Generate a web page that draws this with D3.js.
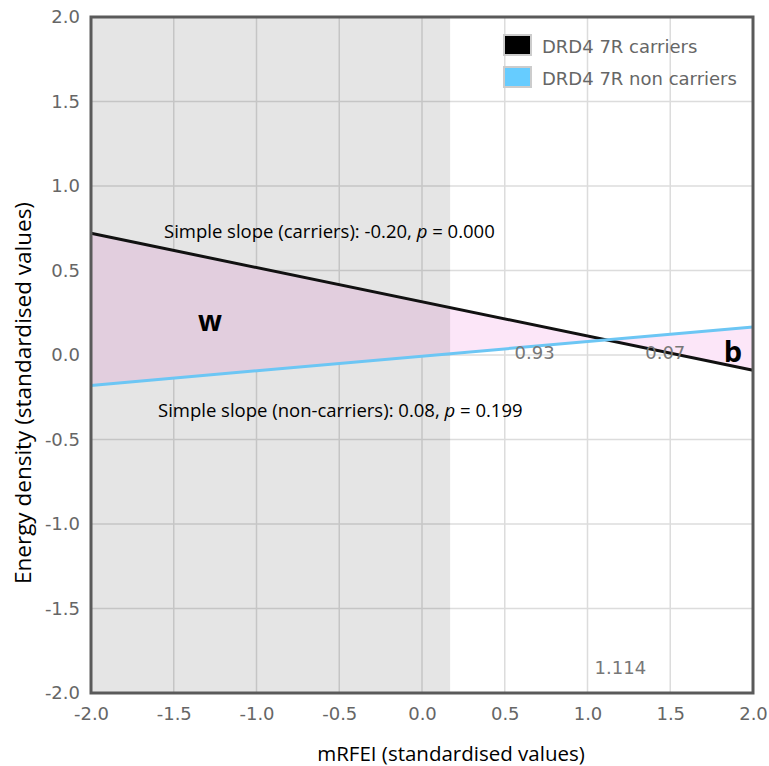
<!DOCTYPE html>
<html>
<head>
<meta charset="utf-8">
<script src="https://cdn.jsdelivr.net/npm/d3@7"></script>
<style>
  body { margin: 0; background: #fff; }
  svg { display: block; }
</style>
</head>
<body>
<div class="chart"></div>
<script>
// data
const xValues = [-2, 2];
const carriers = [0.72, -0.09];
const nonCarriers = [-0.18, 0.166];
const seriesNames = ["DRD4 7R carriers", "DRD4 7R non carriers"];
const tickValues = [-2, -1.5, -1, -0.5, 0, 0.5, 1, 1.5, 2];
const regionBound = 0.17;     // end of grey region of significance
const crossing = 1.114;
const areaLabels = [{x: 0.68, text: "0.93"}, {x: 1.47, text: "0.07"}];

const width = 769;
const height = 766;
const margin = {top: 17, right: 16, bottom: 73, left: 91};

const svg = d3.select(".chart")
  .append("svg")
  .attr("width", width)
  .attr("height", height);

const x = d3.scaleLinear()
  .domain([-2, 2])
  .range([margin.left, width - margin.right]);

const y = d3.scaleLinear()
  .domain([-2, 2])
  .range([height - margin.bottom, margin.top]);

// grid lines
const grid = svg.append("g");
grid.selectAll(".gx")
  .data(tickValues)
  .join("line")
  .attr("x1", d => x(d)).attr("x2", d => x(d))
  .attr("y1", y(2)).attr("y2", y(-2))
  .attr("stroke", "#dcdcdc").attr("stroke-width", 1.5);
grid.selectAll(".gy")
  .data(tickValues)
  .join("line")
  .attr("y1", d => y(d)).attr("y2", d => y(d))
  .attr("x1", x(-2)).attr("x2", x(2))
  .attr("stroke", "#dcdcdc").attr("stroke-width", 1.5);

// pink area between the two lines (they cross at 1.114)
const pts = xValues.map((v, i) => ({x: v, c: carriers[i], n: nonCarriers[i]}));
const band = [pts[0], pts[1], {x: pts[1].x, c: pts[1].n}, {x: pts[0].x, c: pts[0].n}];
svg.append("path")
  .attr("d", d3.line().x(d => x(d.x)).y(d => y(d.c))(band) + "Z")
  .attr("fill", "#fce6f8");

// grey region
svg.append("rect")
  .attr("x", x(-2))
  .attr("y", y(2))
  .attr("width", x(regionBound) - x(-2))
  .attr("height", y(-2) - y(2))
  .attr("fill", "rgba(20,20,20,0.11)");

// lines
const line = d3.line().x(d => x(d.x)).y(d => y(d.v));
svg.append("path")
  .attr("d", line(xValues.map((v, i) => ({x: v, v: carriers[i]}))))
  .attr("fill", "none").attr("stroke", "#111").attr("stroke-width", 3);
svg.append("path")
  .attr("d", line(xValues.map((v, i) => ({x: v, v: nonCarriers[i]}))))
  .attr("fill", "none").attr("stroke", "#6cc6f4").attr("stroke-width", 3);

// frame
svg.append("rect")
  .attr("x", x(-2)).attr("y", y(2))
  .attr("width", x(2) - x(-2)).attr("height", y(-2) - y(2))
  .attr("fill", "none").attr("stroke", "#5a5a5a").attr("stroke-width", 3);

// axes
const tickFmt = d => d.toFixed(1);
const xAxis = svg.append("g")
  .attr("transform", `translate(0, ${y(-2)})`)
  .call(d3.axisBottom(x).tickValues(tickValues).tickFormat(tickFmt).tickSize(0).tickPadding(14));
const yAxis = svg.append("g")
  .attr("transform", `translate(${x(-2)}, 0)`)
  .call(d3.axisLeft(y).tickValues(tickValues).tickFormat(tickFmt).tickSize(0).tickPadding(11));
[xAxis, yAxis].forEach(a => {
  a.select(".domain").remove();
  a.selectAll("text")
    .attr("font-family", "DejaVu Sans, Verdana, sans-serif")
    .attr("font-size", 18)
    .attr("fill", "#666");
});

// axis titles
svg.append("text")
  .attr("x", 451).attr("y", 761)
  .attr("text-anchor", "middle")
  .attr("font-family", "Open Sans, sans-serif")
  .attr("font-size", 20.5)
  .attr("fill", "#000")
  .text("mRFEI (standardised values)");
svg.append("text")
  .attr("transform", `translate(31, 393) rotate(-90)`)
  .attr("text-anchor", "middle")
  .attr("font-family", "Open Sans, sans-serif")
  .attr("font-size", 22.5)
  .attr("fill", "#000")
  .text("Energy density (standardised values)");

// legend
const legend = svg.append("g").attr("transform", "translate(504, 35)");
const legendColors = ["#000", "#66ccff"];
seriesNames.forEach((name, i) => {
  const g = legend.append("g").attr("transform", `translate(0, ${i * 32})`);
  g.append("rect")
    .attr("x", 0).attr("y", 0).attr("width", 27).attr("height", 20)
    .attr("fill", legendColors[i]).attr("stroke", "#ccc").attr("stroke-width", 2);
  g.append("text")
    .attr("x", 38).attr("y", 18)
    .attr("font-family", "DejaVu Sans, Verdana, sans-serif")
    .attr("font-size", 18)
    .attr("fill", "#666")
    .text(name);
});

// slope annotations
const note = (tx, ty, before, after) => {
  const t = svg.append("text")
    .attr("x", tx).attr("y", ty)
    .attr("font-family", "Open Sans, sans-serif")
    .attr("font-size", 18.5)
    .attr("fill", "#000");
  t.append("tspan").text(before);
  t.append("tspan").attr("font-style", "italic").text("p");
  t.append("tspan").text(after);
};
note(164, 238, "Simple slope (carriers): -0.20, ", " = 0.000");
note(158, 417, "Simple slope (non-carriers): 0.08, ", " = 0.199");

// proportion labels
svg.selectAll(".prop")
  .data(areaLabels)
  .join("text")
  .attr("x", d => x(d.x))
  .attr("y", y(0) + 4)
  .attr("text-anchor", "middle")
  .attr("font-family", "DejaVu Sans, Verdana, sans-serif")
  .attr("font-size", 18)
  .attr("fill", "#777")
  .text(d => d.text);

svg.append("text")
  .attr("x", x(crossing) + 14)
  .attr("y", 674)
  .attr("text-anchor", "middle")
  .attr("font-family", "DejaVu Sans, Verdana, sans-serif")
  .attr("font-size", 18)
  .attr("fill", "#777")
  .text(crossing.toFixed(3));

// w / b labels
svg.append("text")
  .attr("x", 210).attr("y", 331)
  .attr("text-anchor", "middle")
  .attr("font-family", "Open Sans, sans-serif")
  .attr("font-weight", "bold")
  .attr("font-size", 28)
  .text("w");
svg.append("text")
  .attr("x", 733).attr("y", 362)
  .attr("text-anchor", "middle")
  .attr("font-family", "Open Sans, sans-serif")
  .attr("font-weight", "bold")
  .attr("font-size", 29)
  .text("b");
</script>
</body>
</html>
